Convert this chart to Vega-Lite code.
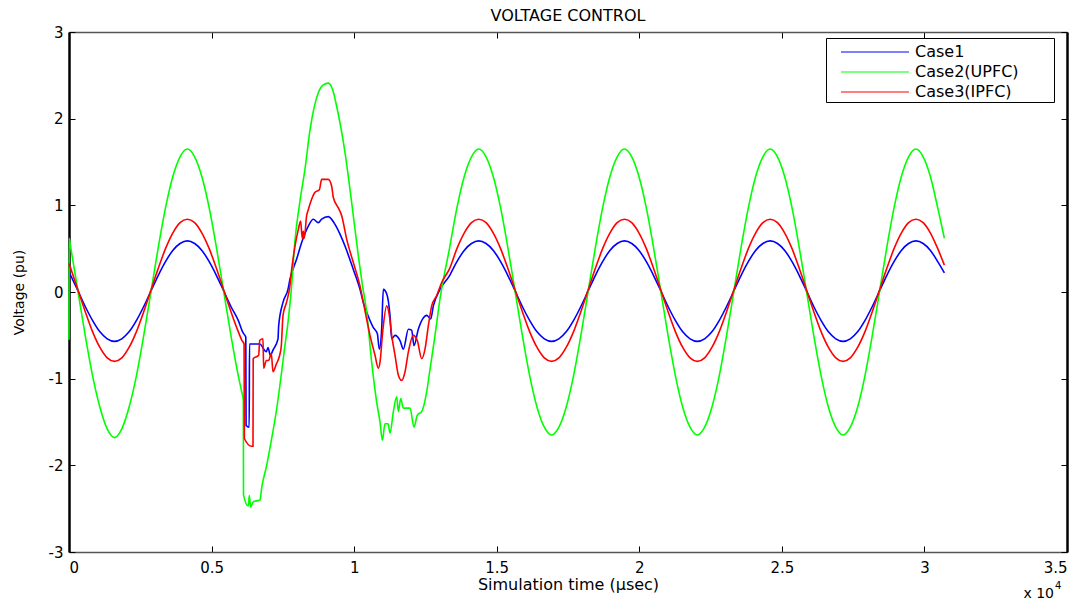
{
"$schema":"https://vega.github.io/schema/vega-lite/v6.json",
"autosize":{"type":"none"},
"width":998,"height":520,
"padding":{"left":69,"top":32,"right":19,"bottom":50},
"background":"white",
"config":{"view":{"stroke":null},"font":"DejaVu Sans"},
"title":{"text":"VOLTAGE CONTROL","fontSize":16,"fontWeight":"normal","font":"DejaVu Sans","color":"black","anchor":"middle","frame":"group","offset":1},
"datasets":{
"c1":[{"t":0,"v":0.23},{"t":62,"v":0.19},{"t":318,"v":0.01},{"t":573,"v":-0.17},{"t":829,"v":-0.33},{"t":1084,"v":-0.46},{"t":1340,"v":-0.54},{"t":1595,"v":-0.57},{"t":1851,"v":-0.54},{"t":2106,"v":-0.46},{"t":2362,"v":-0.33},{"t":2617,"v":-0.17},{"t":2873,"v":0.01},{"t":3128,"v":0.19},{"t":3384,"v":0.35},{"t":3639,"v":0.48},{"t":3895,"v":0.56},{"t":4150,"v":0.59},{"t":4406,"v":0.56},{"t":4661,"v":0.48},{"t":4917,"v":0.35},{"t":5172,"v":0.19},{"t":5428,"v":0.01},{"t":5683,"v":-0.17},{"t":5939,"v":-0.33},{"t":6102,"v":-0.47},{"t":6200,"v":-0.52},{"t":6210,"v":-1.54},{"t":6320,"v":-1.56},{"t":6330,"v":-0.6},{"t":6687,"v":-0.6},{"t":6920,"v":-0.69},{"t":6979,"v":-0.64},{"t":7060,"v":-0.73},{"t":7154,"v":-0.67},{"t":7330,"v":-0.54},{"t":7353,"v":-0.39},{"t":7505,"v":-0.12},{"t":7680,"v":0.03},{"t":7751,"v":0.15},{"t":7984,"v":0.38},{"t":8159,"v":0.57},{"t":8392,"v":0.76},{"t":8568,"v":0.84},{"t":8743,"v":0.8},{"t":8860,"v":0.84},{"t":9094,"v":0.87},{"t":9329,"v":0.78},{"t":9500,"v":0.67},{"t":9679,"v":0.53},{"t":9971,"v":0.26},{"t":10205,"v":0.03},{"t":10322,"v":-0.12},{"t":10439,"v":-0.23},{"t":10673,"v":-0.41},{"t":10813,"v":-0.48},{"t":10883,"v":-0.66},{"t":10965,"v":-0.43},{"t":11024,"v":0.03},{"t":11141,"v":-0.02},{"t":11257,"v":-0.27},{"t":11317,"v":-0.54},{"t":11434,"v":-0.5},{"t":11609,"v":-0.56},{"t":11726,"v":-0.66},{"t":11902,"v":-0.43},{"t":12018,"v":-0.44},{"t":12099,"v":-0.62},{"t":12250,"v":-0.43},{"t":12404,"v":-0.31},{"t":12545,"v":-0.27},{"t":12685,"v":-0.31},{"t":12778,"v":-0.16},{"t":13011,"v":0.03},{"t":13348,"v":0.19},{"t":13604,"v":0.35},{"t":13859,"v":0.48},{"t":14115,"v":0.56},{"t":14370,"v":0.59},{"t":14626,"v":0.56},{"t":14881,"v":0.48},{"t":15137,"v":0.35},{"t":15392,"v":0.19},{"t":15648,"v":0.01},{"t":15903,"v":-0.17},{"t":16159,"v":-0.33},{"t":16414,"v":-0.46},{"t":16670,"v":-0.54},{"t":16925,"v":-0.57},{"t":17181,"v":-0.54},{"t":17436,"v":-0.46},{"t":17692,"v":-0.33},{"t":17947,"v":-0.17},{"t":18203,"v":0.01},{"t":18458,"v":0.19},{"t":18714,"v":0.35},{"t":18969,"v":0.48},{"t":19225,"v":0.56},{"t":19480,"v":0.59},{"t":19736,"v":0.56},{"t":19991,"v":0.48},{"t":20247,"v":0.35},{"t":20502,"v":0.19},{"t":20758,"v":0.01},{"t":21013,"v":-0.17},{"t":21269,"v":-0.33},{"t":21524,"v":-0.46},{"t":21780,"v":-0.54},{"t":22035,"v":-0.57},{"t":22291,"v":-0.54},{"t":22546,"v":-0.46},{"t":22802,"v":-0.33},{"t":23057,"v":-0.17},{"t":23313,"v":0.01},{"t":23568,"v":0.19},{"t":23824,"v":0.35},{"t":24079,"v":0.48},{"t":24335,"v":0.56},{"t":24590,"v":0.59},{"t":24846,"v":0.56},{"t":25101,"v":0.48},{"t":25357,"v":0.35},{"t":25612,"v":0.19},{"t":25868,"v":0.01},{"t":26123,"v":-0.17},{"t":26379,"v":-0.33},{"t":26634,"v":-0.46},{"t":26890,"v":-0.54},{"t":27145,"v":-0.57},{"t":27401,"v":-0.54},{"t":27656,"v":-0.46},{"t":27912,"v":-0.33},{"t":28167,"v":-0.17},{"t":28423,"v":0.01},{"t":28678,"v":0.19},{"t":28934,"v":0.35},{"t":29189,"v":0.48},{"t":29445,"v":0.56},{"t":29700,"v":0.59},{"t":29956,"v":0.56},{"t":30211,"v":0.48},{"t":30467,"v":0.35},{"t":30700,"v":0.22}],
"c2":[{"t":0,"v":-0.55},{"t":5,"v":0.62},{"t":62,"v":0.51},{"t":318,"v":0.0},{"t":573,"v":-0.51},{"t":829,"v":-0.97},{"t":1084,"v":-1.33},{"t":1340,"v":-1.58},{"t":1595,"v":-1.68},{"t":1851,"v":-1.58},{"t":2106,"v":-1.33},{"t":2362,"v":-0.97},{"t":2617,"v":-0.51},{"t":2873,"v":0.0},{"t":3128,"v":0.51},{"t":3384,"v":0.97},{"t":3639,"v":1.33},{"t":3895,"v":1.56},{"t":4150,"v":1.65},{"t":4406,"v":1.56},{"t":4661,"v":1.33},{"t":4917,"v":0.97},{"t":5172,"v":0.51},{"t":5428,"v":0.0},{"t":5683,"v":-0.51},{"t":5939,"v":-0.97},{"t":6056,"v":-1.15},{"t":6114,"v":-1.25},{"t":6120,"v":-2.34},{"t":6289,"v":-2.47},{"t":6324,"v":-2.35},{"t":6371,"v":-2.48},{"t":6464,"v":-2.42},{"t":6698,"v":-2.4},{"t":6757,"v":-2.26},{"t":6933,"v":-2.0},{"t":7108,"v":-1.69},{"t":7283,"v":-1.35},{"t":7446,"v":-0.95},{"t":7560,"v":-0.65},{"t":7680,"v":-0.35},{"t":7797,"v":0.03},{"t":7926,"v":0.6},{"t":8101,"v":1.05},{"t":8277,"v":1.42},{"t":8452,"v":1.87},{"t":8743,"v":2.3},{"t":8920,"v":2.39},{"t":9094,"v":2.41},{"t":9250,"v":2.33},{"t":9388,"v":2.14},{"t":9679,"v":1.61},{"t":9914,"v":1.03},{"t":10146,"v":0.42},{"t":10290,"v":0.08},{"t":10439,"v":-0.23},{"t":10615,"v":-0.81},{"t":10790,"v":-1.27},{"t":10907,"v":-1.5},{"t":10989,"v":-1.71},{"t":11082,"v":-1.52},{"t":11190,"v":-1.52},{"t":11257,"v":-1.63},{"t":11375,"v":-1.38},{"t":11492,"v":-1.21},{"t":11551,"v":-1.38},{"t":11633,"v":-1.23},{"t":11726,"v":-1.34},{"t":11960,"v":-1.34},{"t":12099,"v":-1.56},{"t":12216,"v":-1.42},{"t":12369,"v":-1.38},{"t":12545,"v":-1.15},{"t":12661,"v":-0.89},{"t":12836,"v":-0.5},{"t":13011,"v":-0.08},{"t":13348,"v":0.51},{"t":13604,"v":0.97},{"t":13859,"v":1.33},{"t":14115,"v":1.56},{"t":14370,"v":1.65},{"t":14626,"v":1.56},{"t":14881,"v":1.33},{"t":15137,"v":0.97},{"t":15392,"v":0.51},{"t":15648,"v":0.0},{"t":15903,"v":-0.51},{"t":16159,"v":-0.97},{"t":16414,"v":-1.33},{"t":16670,"v":-1.56},{"t":16925,"v":-1.65},{"t":17181,"v":-1.56},{"t":17436,"v":-1.33},{"t":17692,"v":-0.97},{"t":17947,"v":-0.51},{"t":18203,"v":0.0},{"t":18458,"v":0.51},{"t":18714,"v":0.97},{"t":18969,"v":1.33},{"t":19225,"v":1.56},{"t":19480,"v":1.65},{"t":19736,"v":1.56},{"t":19991,"v":1.33},{"t":20247,"v":0.97},{"t":20502,"v":0.51},{"t":20758,"v":0.0},{"t":21013,"v":-0.51},{"t":21269,"v":-0.97},{"t":21524,"v":-1.33},{"t":21780,"v":-1.56},{"t":22035,"v":-1.65},{"t":22291,"v":-1.56},{"t":22546,"v":-1.33},{"t":22802,"v":-0.97},{"t":23057,"v":-0.51},{"t":23313,"v":0.0},{"t":23568,"v":0.51},{"t":23824,"v":0.97},{"t":24079,"v":1.33},{"t":24335,"v":1.56},{"t":24590,"v":1.65},{"t":24846,"v":1.56},{"t":25101,"v":1.33},{"t":25357,"v":0.97},{"t":25612,"v":0.51},{"t":25868,"v":0.0},{"t":26123,"v":-0.51},{"t":26379,"v":-0.97},{"t":26634,"v":-1.33},{"t":26890,"v":-1.56},{"t":27145,"v":-1.65},{"t":27401,"v":-1.56},{"t":27656,"v":-1.33},{"t":27912,"v":-0.97},{"t":28167,"v":-0.51},{"t":28423,"v":0.0},{"t":28678,"v":0.51},{"t":28934,"v":0.97},{"t":29189,"v":1.33},{"t":29445,"v":1.56},{"t":29700,"v":1.65},{"t":29956,"v":1.56},{"t":30211,"v":1.33},{"t":30467,"v":0.97},{"t":30700,"v":0.62}],
"c3":[{"t":0,"v":0.33},{"t":62,"v":0.27},{"t":318,"v":0.02},{"t":573,"v":-0.23},{"t":829,"v":-0.46},{"t":1084,"v":-0.64},{"t":1340,"v":-0.76},{"t":1595,"v":-0.8},{"t":1851,"v":-0.76},{"t":2106,"v":-0.64},{"t":2362,"v":-0.46},{"t":2617,"v":-0.23},{"t":2873,"v":0.02},{"t":3128,"v":0.27},{"t":3384,"v":0.5},{"t":3639,"v":0.68},{"t":3895,"v":0.8},{"t":4150,"v":0.84},{"t":4406,"v":0.8},{"t":4661,"v":0.68},{"t":4917,"v":0.5},{"t":5172,"v":0.27},{"t":5428,"v":0.02},{"t":5683,"v":-0.23},{"t":5939,"v":-0.46},{"t":6067,"v":-0.56},{"t":6140,"v":-0.6},{"t":6150,"v":-1.69},{"t":6406,"v":-1.78},{"t":6453,"v":-1.78},{"t":6460,"v":-0.77},{"t":6652,"v":-0.73},{"t":6687,"v":-0.56},{"t":6803,"v":-0.54},{"t":6827,"v":-0.88},{"t":6920,"v":-0.79},{"t":7000,"v":-0.79},{"t":7095,"v":-0.71},{"t":7154,"v":-0.92},{"t":7271,"v":-0.83},{"t":7388,"v":-0.73},{"t":7446,"v":-0.62},{"t":7505,"v":-0.27},{"t":7628,"v":-0.12},{"t":7739,"v":0.05},{"t":7809,"v":0.26},{"t":7926,"v":0.53},{"t":8042,"v":0.72},{"t":8124,"v":0.82},{"t":8180,"v":0.62},{"t":8217,"v":0.7},{"t":8250,"v":0.62},{"t":8334,"v":0.88},{"t":8392,"v":0.95},{"t":8509,"v":1.07},{"t":8627,"v":1.15},{"t":8780,"v":1.18},{"t":8860,"v":1.3},{"t":9094,"v":1.3},{"t":9212,"v":1.22},{"t":9270,"v":1.09},{"t":9446,"v":0.97},{"t":9563,"v":0.88},{"t":9738,"v":0.61},{"t":9971,"v":0.34},{"t":10205,"v":0.07},{"t":10322,"v":-0.12},{"t":10556,"v":-0.5},{"t":10732,"v":-0.73},{"t":10849,"v":-0.88},{"t":10907,"v":-0.81},{"t":11001,"v":-0.46},{"t":11141,"v":-0.16},{"t":11235,"v":-0.27},{"t":11317,"v":-0.5},{"t":11434,"v":-0.73},{"t":11551,"v":-0.96},{"t":11668,"v":-1.02},{"t":11785,"v":-0.92},{"t":11902,"v":-0.69},{"t":12077,"v":-0.5},{"t":12216,"v":-0.56},{"t":12369,"v":-0.77},{"t":12485,"v":-0.66},{"t":12602,"v":-0.39},{"t":12720,"v":-0.16},{"t":12895,"v":-0.04},{"t":13070,"v":0.11},{"t":13348,"v":0.27},{"t":13604,"v":0.5},{"t":13859,"v":0.68},{"t":14115,"v":0.8},{"t":14370,"v":0.84},{"t":14626,"v":0.8},{"t":14881,"v":0.68},{"t":15137,"v":0.5},{"t":15392,"v":0.27},{"t":15648,"v":0.02},{"t":15903,"v":-0.23},{"t":16159,"v":-0.46},{"t":16414,"v":-0.64},{"t":16670,"v":-0.76},{"t":16925,"v":-0.8},{"t":17181,"v":-0.76},{"t":17436,"v":-0.64},{"t":17692,"v":-0.46},{"t":17947,"v":-0.23},{"t":18203,"v":0.02},{"t":18458,"v":0.27},{"t":18714,"v":0.5},{"t":18969,"v":0.68},{"t":19225,"v":0.8},{"t":19480,"v":0.84},{"t":19736,"v":0.8},{"t":19991,"v":0.68},{"t":20247,"v":0.5},{"t":20502,"v":0.27},{"t":20758,"v":0.02},{"t":21013,"v":-0.23},{"t":21269,"v":-0.46},{"t":21524,"v":-0.64},{"t":21780,"v":-0.76},{"t":22035,"v":-0.8},{"t":22291,"v":-0.76},{"t":22546,"v":-0.64},{"t":22802,"v":-0.46},{"t":23057,"v":-0.23},{"t":23313,"v":0.02},{"t":23568,"v":0.27},{"t":23824,"v":0.5},{"t":24079,"v":0.68},{"t":24335,"v":0.8},{"t":24590,"v":0.84},{"t":24846,"v":0.8},{"t":25101,"v":0.68},{"t":25357,"v":0.5},{"t":25612,"v":0.27},{"t":25868,"v":0.02},{"t":26123,"v":-0.23},{"t":26379,"v":-0.46},{"t":26634,"v":-0.64},{"t":26890,"v":-0.76},{"t":27145,"v":-0.8},{"t":27401,"v":-0.76},{"t":27656,"v":-0.64},{"t":27912,"v":-0.46},{"t":28167,"v":-0.23},{"t":28423,"v":0.02},{"t":28678,"v":0.27},{"t":28934,"v":0.5},{"t":29189,"v":0.68},{"t":29445,"v":0.8},{"t":29700,"v":0.84},{"t":29956,"v":0.8},{"t":30211,"v":0.68},{"t":30467,"v":0.5},{"t":30700,"v":0.31}]
},
"resolve":{"axis":{"x":"independent","y":"independent"}},
"layer":[
{"data":{"name":"c1"},"mark":{"type":"line","strokeWidth":1.6,"interpolate":"monotone"},
 "encoding":{
  "x":{"field":"t","type":"quantitative","scale":{"domain":[0,35000],"nice":false,"zero":false},
   "axis":{"orient":"bottom","values":[0,5000,10000,15000,20000,25000,30000,35000],"labelExpr":"'' + datum.value/10000","title":"Simulation time (µsec)","grid":false,"domainColor":"#555","domainWidth":1.5,"tickColor":"black","tickSize":-6,"labelPadding":14,"labelFont":"DejaVu Sans","labelFontSize":15,"labelColor":"black","titleFont":"DejaVu Sans","titleFontSize":16,"titleFontWeight":"normal","titleColor":"black","titlePadding":1}},
  "y":{"field":"v","type":"quantitative","scale":{"domain":[-3,3],"nice":false,"zero":false},
   "axis":{"orient":"left","values":[-3,-2,-1,0,1,2,3],"labelExpr":"datum.value < 0 ? '-' + abs(datum.value) : '' + datum.value","title":"Voltage (pu)","grid":false,"domainColor":"black","domainWidth":2.5,"tickColor":"black","tickSize":-6,"labelPadding":12,"labelFont":"DejaVu Sans","labelFontSize":15,"labelColor":"black","titleFont":"DejaVu Sans","titleFontSize":14,"titleFontWeight":"normal","titleColor":"black","titlePadding":22}},
  "color":{"datum":"Case1","type":"nominal","scale":{"domain":["Case1","Case2(UPFC)","Case3(IPFC)"],"range":["#0000ff","#00ff00","#ff0000"]},
   "legend":{"title":" ","titleOrient":"right","titlePadding":33,"orient":"none","legendX":757,"legendY":6,"strokeColor":"black","fillColor":"white","padding":2,"symbolType":"M0.09,0H6.27","symbolSize":484,"symbolStrokeWidth":1.2,"labelFont":"DejaVu Sans","labelFontSize":16,"labelColor":"black","labelOffset":63,"rowPadding":0}}
 }},
{"data":{"name":"c2"},"mark":{"type":"line","strokeWidth":1.6,"interpolate":"monotone"},
 "encoding":{"x":{"field":"t","type":"quantitative","axis":null},"y":{"field":"v","type":"quantitative","axis":null},"color":{"datum":"Case2(UPFC)","type":"nominal"}}},
{"data":{"name":"c3"},"mark":{"type":"line","strokeWidth":1.6,"interpolate":"monotone"},
 "encoding":{"x":{"field":"t","type":"quantitative","axis":null},"y":{"field":"v","type":"quantitative","axis":null},"color":{"datum":"Case3(IPFC)","type":"nominal"}}},
{"data":{"values":[{"lab":"x 10"}]},"mark":{"type":"text","align":"right","baseline":"alphabetic","dx":-13,"dy":46,"fontSize":14,"font":"DejaVu Sans","color":"black"},
 "encoding":{
  "text":{"field":"lab"},
  "x":{"datum":35000,"type":"quantitative","axis":{"orient":"top","values":[0,5000,10000,15000,20000,25000,30000,35000],"labels":false,"title":null,"grid":false,"domainColor":"#555","domainWidth":1.5,"tickColor":"black","tickSize":-6}},
  "y":{"datum":-3,"type":"quantitative","axis":{"orient":"right","values":[-3,-2,-1,0,1,2,3],"labels":false,"title":null,"grid":false,"domainColor":"black","domainWidth":2.5,"tickColor":"black","tickSize":-6}}}},
{"data":{"values":[{"lab":"4"}]},"mark":{"type":"text","align":"left","baseline":"alphabetic","dx":-12,"dy":37,"fontSize":10,"font":"DejaVu Sans","color":"black"},
 "encoding":{"text":{"field":"lab"},"x":{"datum":35000,"type":"quantitative","axis":null},"y":{"datum":-3,"type":"quantitative","axis":null}}}
]
}
